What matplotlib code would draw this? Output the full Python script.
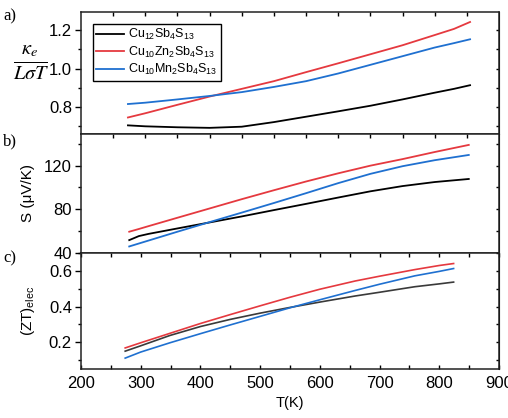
import matplotlib
matplotlib.use("Agg")
import matplotlib.pyplot as plt
from matplotlib.ticker import MultipleLocator, NullLocator, FormatStrFormatter

plt.rcParams['font.family'] = ['Liberation Sans', 'DejaVu Sans']
plt.rcParams['mathtext.fontset'] = 'custom'
plt.rcParams['mathtext.rm'] = 'Liberation Sans'
plt.rcParams['mathtext.it'] = 'Liberation Sans:italic'

labels = [r'Cu$_{12}$Sb$_4$S$_{13}$', r'Cu$_{10}$Zn$_2$Sb$_4$S$_{13}$', r'Cu$_{10}$Mn$_2$Sb$_4$S$_{13}$']
colors = ['#000000', '#e5393f', '#1f70d0']
colors_c = ['#3a3a3a', '#e5393f', '#1f70d0']

# Panel a: kappa_e / (L sigma T)
T_a = [323, 350, 400, 450, 500, 550, 600, 650, 700, 750, 800, 830, 855]
ke_cu12 = [0.705, 0.700, 0.695, 0.692, 0.698, 0.722, 0.750, 0.778, 0.807, 0.840, 0.875, 0.895, 0.914]
ke_zn = [0.746, 0.768, 0.812, 0.855, 0.895, 0.935, 0.982, 1.028, 1.075, 1.122, 1.175, 1.207, 1.243]
ke_mn = [0.816, 0.823, 0.840, 0.858, 0.878, 0.905, 0.935, 0.975, 1.020, 1.065, 1.110, 1.133, 1.153]

# Panel b: Seebeck coefficient
T_b = [325, 340, 355, 400, 450, 500, 550, 600, 650, 700, 750, 800, 853]
S_cu12 = [51.8, 55.5, 57.5, 62.5, 68.0, 73.5, 79.3, 85.0, 90.8, 96.5, 101.3, 105.0, 107.8]
S_zn = [59.5, 62.0, 64.6, 72.3, 80.8, 89.3, 97.5, 105.5, 113.0, 120.0, 126.0, 132.5, 139.0]
S_mn = [46.0, 48.7, 51.4, 59.5, 68.3, 77.0, 85.8, 94.8, 104.0, 112.5, 119.5, 125.0, 129.8]

# Panel c: (ZT)elec
T_c = [274, 300, 349, 400, 450, 500, 550, 600, 659, 700, 759, 800, 824]
zt_cu12 = [0.150, 0.180, 0.238, 0.288, 0.328, 0.363, 0.395, 0.425, 0.459, 0.480, 0.511, 0.527, 0.537]
zt_zn = [0.168, 0.197, 0.250, 0.305, 0.355, 0.404, 0.452, 0.497, 0.543, 0.570, 0.607, 0.630, 0.641]
zt_mn = [0.111, 0.145, 0.197, 0.248, 0.297, 0.345, 0.393, 0.438, 0.490, 0.525, 0.572, 0.597, 0.613]

W, H = 508, 418
fig = plt.figure(figsize=(W / 100, H / 100), dpi=100)
L, R = 81 / W, 499 / W

def fbox(top, bot):
    return [L, 1 - bot / H, R - L, (bot - top) / H]

ax_a = fig.add_axes(fbox(12, 134))
ax_b = fig.add_axes(fbox(134, 253))
ax_c = fig.add_axes(fbox(253, 369))

secs = {}
for ax in (ax_a, ax_b, ax_c):
    for s in ax.spines.values():
        s.set_linewidth(1.1)
        s.set_color('#222222')
    ax.tick_params(axis='y', which='major', direction='out', length=4.5, width=1.0,
                   labelsize=12, right=False, pad=2)
    ax.tick_params(axis='y', which='minor', direction='out', length=2.5, width=1.0, right=False)
    sec = ax.secondary_yaxis('right')
    sec.tick_params(axis='y', which='both', direction='in', length=2.5, width=1.0, labelright=False)
    secs[ax] = sec

# panel a
for y, c, lab in zip([ke_cu12, ke_zn, ke_mn], colors, labels):
    ax_a.plot(T_a, y, color=c, lw=1.3, label=lab)
ax_a.set_xlim(250, 900)
ax_a.set_ylim(0.66, 1.295)
ax_a.yaxis.set_major_locator(MultipleLocator(0.2))
ax_a.yaxis.set_minor_locator(MultipleLocator(0.1))
ax_a.yaxis.set_major_formatter(FormatStrFormatter('%.1f'))
secs[ax_a].yaxis.set_major_locator(MultipleLocator(0.1))
secs[ax_a].yaxis.set_minor_locator(NullLocator())
leg = ax_a.legend(loc='upper left', bbox_to_anchor=(0.028, 0.905), fontsize=9,
                  frameon=True, fancybox=False, edgecolor='black', framealpha=1,
                  handlelength=2.2, handletextpad=0.3, borderpad=0.3, labelspacing=0.18,
                  borderaxespad=0)
leg.get_frame().set_linewidth(1.0)

# panel b
for y, c in zip([S_cu12, S_zn, S_mn], colors):
    ax_b.plot(T_b, y, color=c, lw=1.3)
ax_b.set_xlim(250, 900)
ax_b.set_ylim(40, 149)
ax_b.yaxis.set_major_locator(MultipleLocator(40))
ax_b.yaxis.set_minor_locator(MultipleLocator(20))
secs[ax_b].yaxis.set_major_locator(MultipleLocator(20))
secs[ax_b].yaxis.set_minor_locator(NullLocator())

for ax in (ax_a, ax_b):
    ax.set_xticks(list(range(300, 900, 50)))
    ax.xaxis.set_minor_locator(NullLocator())
    ax.tick_params(axis='x', which='both', direction='in', length=3, width=1.0,
                   top=True, bottom=False, labelbottom=False)

# panel c
for y, c in zip([zt_cu12, zt_zn, zt_mn], colors_c):
    ax_c.plot(T_c, y, color=c, lw=1.2)
ax_c.set_xlim(200, 900)
ax_c.set_ylim(0.05, 0.70)
ax_c.xaxis.set_major_locator(MultipleLocator(100))
ax_c.xaxis.set_minor_locator(MultipleLocator(50))
ax_c.yaxis.set_major_locator(MultipleLocator(0.2))
ax_c.yaxis.set_minor_locator(MultipleLocator(0.1))
ax_c.yaxis.set_major_formatter(FormatStrFormatter('%.1f'))
secs[ax_c].yaxis.set_major_locator(MultipleLocator(0.1))
secs[ax_c].yaxis.set_minor_locator(NullLocator())
ax_c.tick_params(axis='x', which='both', direction='in', length=3, width=1.0,
                 top=True, bottom=True, labelsize=12, pad=5)
ax_c.set_xlabel('T(K)', fontsize=10.5, labelpad=4)

# y labels
fig.text(31 / W, 1 - 63 / H, r'$\frac{\kappa_e}{L\sigma T}$', fontsize=21,
         ha='center', va='center', math_fontfamily='stix')
ax_b.set_ylabel('S (μV/K)', fontsize=11)
ax_b.yaxis.set_label_coords(-0.11, 0.5)
ax_c.set_ylabel(r'(ZT)$_{\rm elec}$', fontsize=11)
ax_c.yaxis.set_label_coords(-0.105, 0.5)

# panel letters
for txt, y in [('a)', 16), ('b)', 141), ('c)', 258)]:
    fig.text(3 / W, 1 - y / H, txt, fontsize=12, family='Liberation Serif',
             ha='left', va='center')

fig.savefig('out.png', dpi=100)
